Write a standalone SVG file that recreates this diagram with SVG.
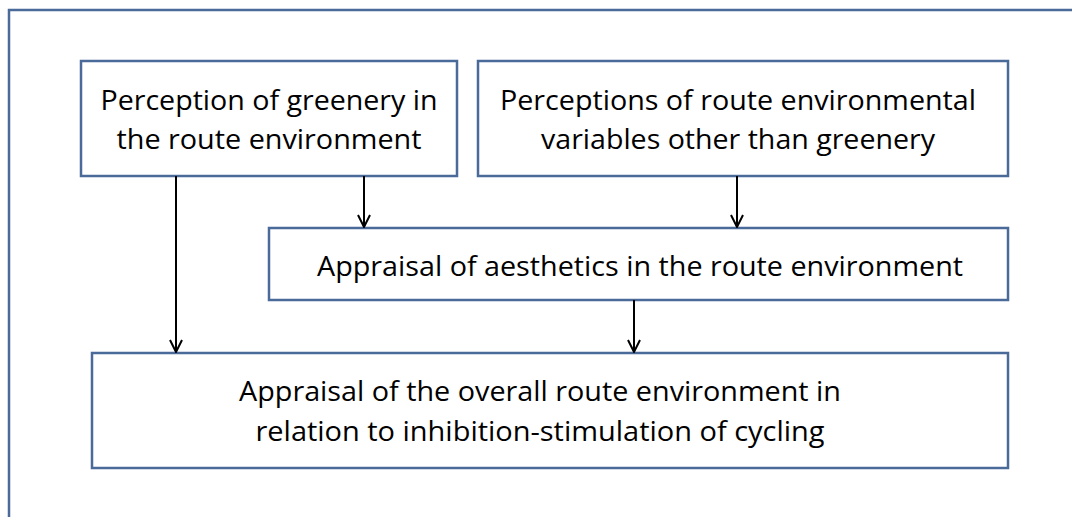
<svg xmlns="http://www.w3.org/2000/svg" width="1072" height="517" viewBox="0 0 1072 517">
<defs>
<style>
.box{fill:#fff;stroke:#4a6a9a;stroke-width:2.5}
.frame{fill:none;stroke:#4a6a9a;stroke-width:2.5}
.t{font-family:"Open Sans","Liberation Sans",sans-serif;font-size:26.5px;fill:#000;text-anchor:middle}
.c{stroke:#000;stroke-width:2;fill:none}
</style>
<marker id="ah" viewBox="0 0 14 14" refX="13" refY="7" markerWidth="14" markerHeight="14" markerUnits="userSpaceOnUse" orient="auto">
<path d="M1 1 L13 7 L1 13" fill="none" stroke="#000" stroke-width="2"/>
</marker>
</defs>
<rect width="1072" height="517" fill="#fff"/>
<path class="frame" d="M1074 10 H9 V519"/>
<g id="n1"><rect class="box" x="81" y="61" width="376" height="115"/>
<text class="t" x="269" y="110" textLength="337" lengthAdjust="spacingAndGlyphs">Perception of greenery in</text>
<text class="t" x="269" y="149" textLength="305" lengthAdjust="spacingAndGlyphs">the route environment</text></g>
<g id="n2"><rect class="box" x="478" y="61" width="530" height="115"/>
<text class="t" x="738" y="110" textLength="476" lengthAdjust="spacingAndGlyphs">Perceptions of route environmental</text>
<text class="t" x="738" y="149" textLength="394" lengthAdjust="spacingAndGlyphs">variables other than greenery</text></g>
<g id="n3"><rect class="box" x="269" y="228" width="739" height="72"/>
<text class="t" x="640" y="276" textLength="646" lengthAdjust="spacingAndGlyphs">Appraisal of aesthetics in the route environment</text></g>
<g id="n4"><rect class="box" x="92" y="353" width="916" height="115"/>
<text class="t" x="540" y="401" textLength="602" lengthAdjust="spacingAndGlyphs">Appraisal of the overall route environment in</text>
<text class="t" x="540" y="441" textLength="569" lengthAdjust="spacingAndGlyphs">relation to inhibition-stimulation of cycling</text></g>
<g id="connectors">
<line class="c" x1="176" y1="176" x2="176" y2="352" marker-end="url(#ah)"/>
<line class="c" x1="364" y1="176" x2="364" y2="227" marker-end="url(#ah)"/>
<line class="c" x1="737" y1="176" x2="737" y2="227" marker-end="url(#ah)"/>
<line class="c" x1="634" y1="300" x2="634" y2="352" marker-end="url(#ah)"/>
</g>
</svg>
